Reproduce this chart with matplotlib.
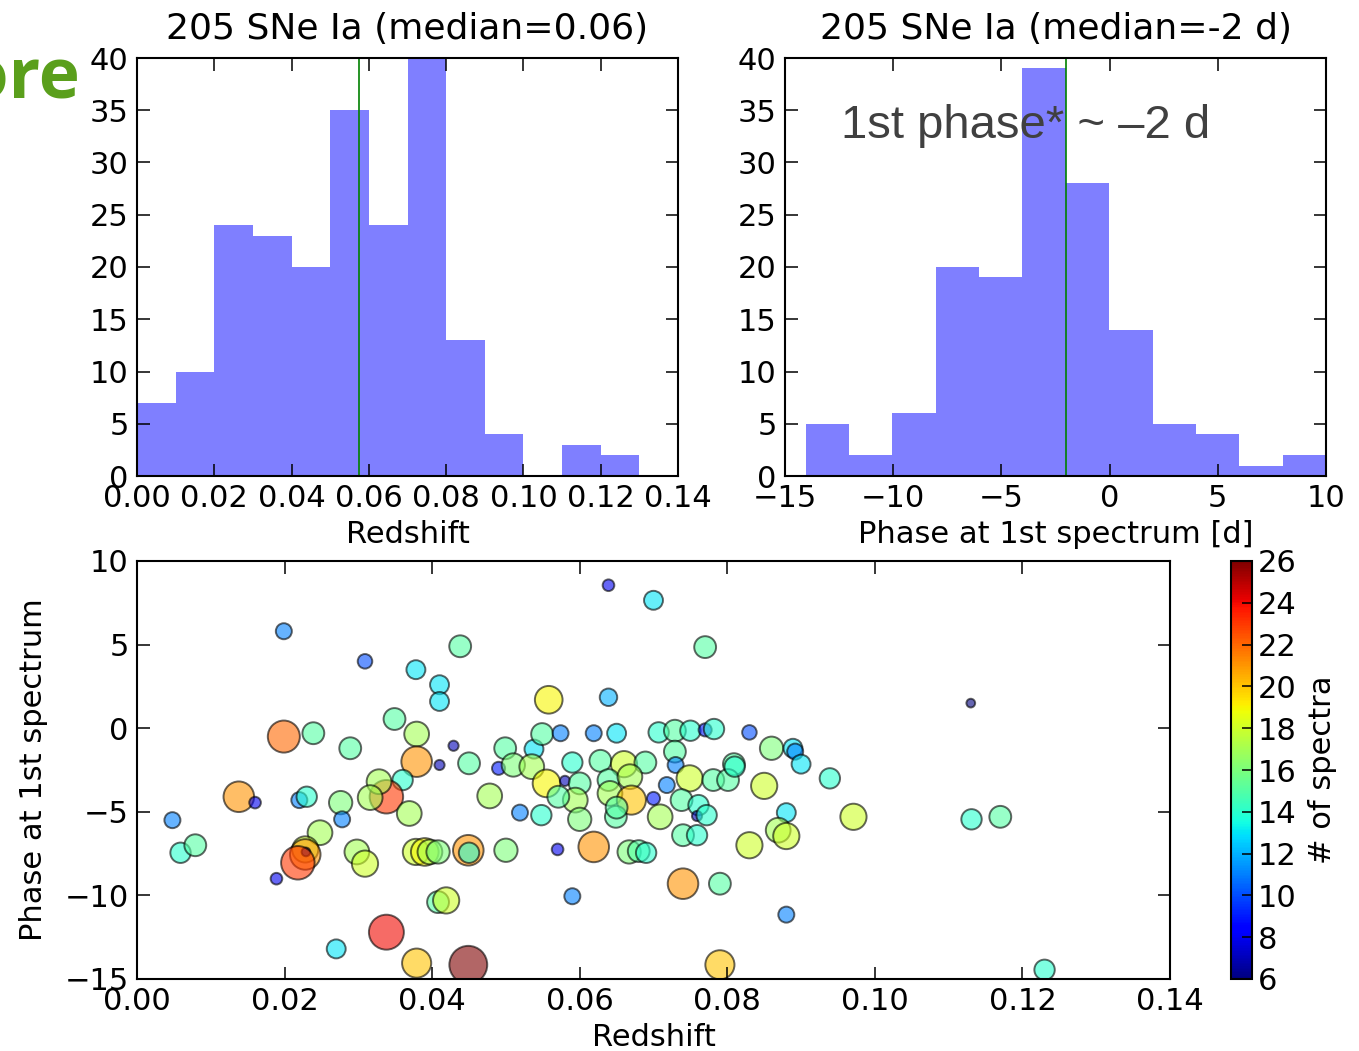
import numpy as np
import matplotlib
matplotlib.use("Agg")
import matplotlib.pyplot as plt
from matplotlib.colors import Normalize
from matplotlib.cm import ScalarMappable

# histogram of redshifts (bins of 0.01)
z_edges = np.linspace(0.0, 0.13, 14)
z_counts = [7, 10, 24, 23, 20, 35, 24, 40, 13, 4, 0, 3, 2]
median_z = 0.0575

# histogram of phase at first spectrum
phase_edges = np.linspace(-14.05, 10.0, 13)
phase_counts = [5, 2, 6, 20, 19, 39, 28, 14, 5, 4, 1, 2]
median_phase = -2.0

# one entry per supernova: redshift, phase of first spectrum, number of spectra
sn_z = [
    0.0199, 0.0199, 0.0239, 0.0138, 0.0160, 0.0048, 0.0059, 0.0079, 0.0220, 0.0230,
    0.0276, 0.0278, 0.0248, 0.0228, 0.0228, 0.0229, 0.0218, 0.0189, 0.0270, 0.0309,
    0.0378, 0.0438, 0.0410, 0.0410, 0.0349, 0.0379, 0.0379, 0.0289, 0.0429, 0.0410,
    0.0450, 0.0499, 0.0538, 0.0549, 0.0490, 0.0510, 0.0535, 0.0555, 0.0519, 0.0548,
    0.0478, 0.0360, 0.0338, 0.0328, 0.0316, 0.0369, 0.0298, 0.0309, 0.0378, 0.0390,
    0.0397, 0.0408, 0.0449, 0.0450, 0.0500, 0.0408, 0.0419, 0.0338, 0.0379, 0.0449,
    0.0639, 0.0700, 0.0770, 0.0639, 0.0558, 0.0574, 0.0619, 0.0650, 0.0707, 0.0729,
    0.0750, 0.0770, 0.0782, 0.0830, 0.0729, 0.0730, 0.0590, 0.0628, 0.0660, 0.0689,
    0.0809, 0.0860, 0.0889, 0.0892, 0.0900, 0.0939, 0.0850, 0.0971, 0.0880, 0.0869,
    0.0880, 0.0830, 0.0880, 0.0790, 0.0740, 0.0790, 0.0590, 0.0570, 0.0619, 0.0667,
    0.0680, 0.0690, 0.0749, 0.0781, 0.0801, 0.0810, 0.0580, 0.0600, 0.0594, 0.0571,
    0.0600, 0.0639, 0.0641, 0.0668, 0.0670, 0.0649, 0.0700, 0.0718, 0.0709, 0.0738,
    0.0761, 0.0759, 0.0772, 0.0740, 0.0759, 0.0650, 0.1130, 0.1131, 0.1170, 0.1230,
]
sn_phase = [
    5.8, -0.5, -0.3, -4.1, -4.45, -5.5, -7.45, -7.0, -4.3, -4.1,
    -4.45, -5.45, -6.25, -7.25, -7.55, -7.4, -8.05, -9.0, -13.2, 4.0,
    3.5, 4.9, 2.6, 1.6, 0.55, -0.35, -2.0, -1.2, -1.05, -2.2,
    -2.1, -1.2, -1.25, -0.35, -2.4, -2.2, -2.3, -3.3, -5.05, -5.2,
    -4.05, -3.1, -4.1, -3.2, -4.15, -5.1, -7.4, -8.1, -7.4, -7.4,
    -7.4, -7.4, -7.3, -7.45, -7.3, -10.4, -10.3, -12.2, -14.05, -14.15,
    8.55, 7.65, 4.85, 1.85, 1.7, -0.3, -0.3, -0.3, -0.25, -0.15,
    -0.15, -0.1, -0.05, -0.25, -1.4, -2.2, -2.05, -1.95, -2.15, -2.05,
    -2.15, -1.2, -1.2, -1.4, -2.15, -3.0, -3.45, -5.3, -5.05, -6.1,
    -6.45, -7.0, -11.15, -9.3, -9.3, -14.15, -10.05, -7.25, -7.1, -7.4,
    -7.35, -7.45, -3.0, -3.1, -3.1, -2.3, -3.15, -3.3, -4.3, -4.1,
    -5.45, -3.1, -3.9, -2.9, -4.3, -5.3, -4.2, -3.4, -5.3, -4.3,
    -4.6, -5.25, -5.2, -6.4, -6.4, -4.75, 1.5, -5.45, -5.3, -14.45,
]
sn_nspec = [
    11, 22, 15, 21, 8, 11, 14, 15, 11, 14,
    16, 11, 17, 18, 21, 6, 23, 8, 13, 10,
    13, 15, 13, 13, 15, 17, 21, 15, 7, 7,
    15, 15, 13, 15, 9, 16, 17, 19, 11, 14,
    17, 14, 23, 17, 17, 17, 17, 18, 18, 19,
    17, 16, 21, 14, 16, 15, 18, 24, 20, 26,
    8, 13, 15, 12, 19, 11, 11, 13, 14, 15,
    14, 9, 14, 10, 15, 11, 14, 15, 18, 15,
    15, 16, 13, 11, 13, 14, 18, 18, 13, 17,
    18, 18, 11, 15, 21, 20, 11, 8, 21, 16,
    15, 14, 18, 15, 15, 14, 7, 15, 17, 15,
    16, 15, 17, 17, 20, 15, 9, 11, 17, 15,
    14, 7, 14, 15, 14, 15, 6, 14, 15, 14,
]

plt.rcParams.update({
    "font.family": "DejaVu Sans",
    "font.size": 22,
    "axes.linewidth": 1.5,
    "xtick.direction": "in",
    "ytick.direction": "in",
    "xtick.top": True,
    "ytick.right": True,
    "xtick.major.size": 9,
    "ytick.major.size": 9,
    "xtick.major.width": 1.1,
    "ytick.major.width": 1.1,
    "xtick.major.pad": 6,
    "ytick.major.pad": 6,
    "xtick.labelsize": 22,
    "ytick.labelsize": 22,
})

fig = plt.figure(figsize=(13.59, 10.51), dpi=100)
W, H = 1359.0, 1051.0

def px_axes(left, top, right, bottom):
    return fig.add_axes([left / W, 1 - bottom / H, (right - left) / W, (bottom - top) / H])

ax1 = px_axes(137, 58, 678, 476)
ax2 = px_axes(785, 58, 1326, 476)
ax3 = px_axes(137, 561, 1170, 979)
cax = px_axes(1231, 561, 1252, 979)

bar_color = (0, 0, 1, 0.5)
z_ticks = np.arange(0, 0.141, 0.02)

# redshift histogram
ax1.stairs(z_counts, z_edges, fill=True, color=bar_color, linewidth=0)
ax1.axvline(median_z, color="g", linewidth=1.2)
ax1.set_xlim(0, 0.14)
ax1.set_ylim(0, 40)
ax1.set_xticks(z_ticks)
ax1.set_xticklabels([f"{v:.2f}" for v in z_ticks])
ax1.set_yticks(range(0, 41, 5))
ax1.set_xlabel("Redshift", labelpad=5)
ax1.set_title(f"{sum(z_counts)} SNe Ia (median={median_z:.2f})", fontsize=26, pad=14)

# phase histogram
ax2.stairs(phase_counts, phase_edges, fill=True, color=bar_color, linewidth=0)
ax2.axvline(median_phase, color="g", linewidth=1.2)
ax2.set_xlim(-15, 10)
ax2.set_ylim(0, 40)
ax2.set_xticks(range(-15, 11, 5))
ax2.set_yticks(range(0, 41, 5))
ax2.set_xlabel("Phase at 1st spectrum [d]", labelpad=5)
ax2.set_title(f"{sum(z_counts)} SNe Ia (median={median_phase:.0f} d)", fontsize=26, pad=14)
ax2.text(841 / W, 1 - 138 / H, "1st phase* ~ \u20132 d", transform=fig.transFigure,
         fontfamily="Liberation Sans", fontsize=34, color="#404040")

# phase vs redshift, coloured and sized by number of spectra
norm = Normalize(vmin=6, vmax=26)
sizes = [1.1 * n ** 2 for n in sn_nspec]
ax3.scatter(sn_z, sn_phase, s=sizes, c=sn_nspec, cmap="jet", norm=norm,
            alpha=0.6, edgecolors="k", linewidths=1.4)
ax3.set_xlim(0, 0.14)
ax3.set_ylim(-15, 10)
ax3.set_xticks(z_ticks)
ax3.set_xticklabels([f"{v:.2f}" for v in z_ticks])
ax3.set_yticks(range(-15, 11, 5))
ax3.set_xlabel("Redshift", labelpad=5)
ax3.set_ylabel("Phase at 1st spectrum", labelpad=12)

cb = fig.colorbar(ScalarMappable(norm=norm, cmap="jet"), cax=cax, ticks=range(6, 27, 2))
cb.outline.set_linewidth(1.5)
cax.tick_params(direction="in", length=7, width=1.1, labelsize=22, pad=4)
cb.set_label("# of spectra", fontsize=22, labelpad=8)

# slide heading cut off at the left edge
fig.text(81 / W, 1 - 97 / H, "More", ha="right", fontfamily="Open Sans",
         fontweight="bold", fontsize=50, color="#5a9f1c")

fig.savefig("out.png", dpi=100)
